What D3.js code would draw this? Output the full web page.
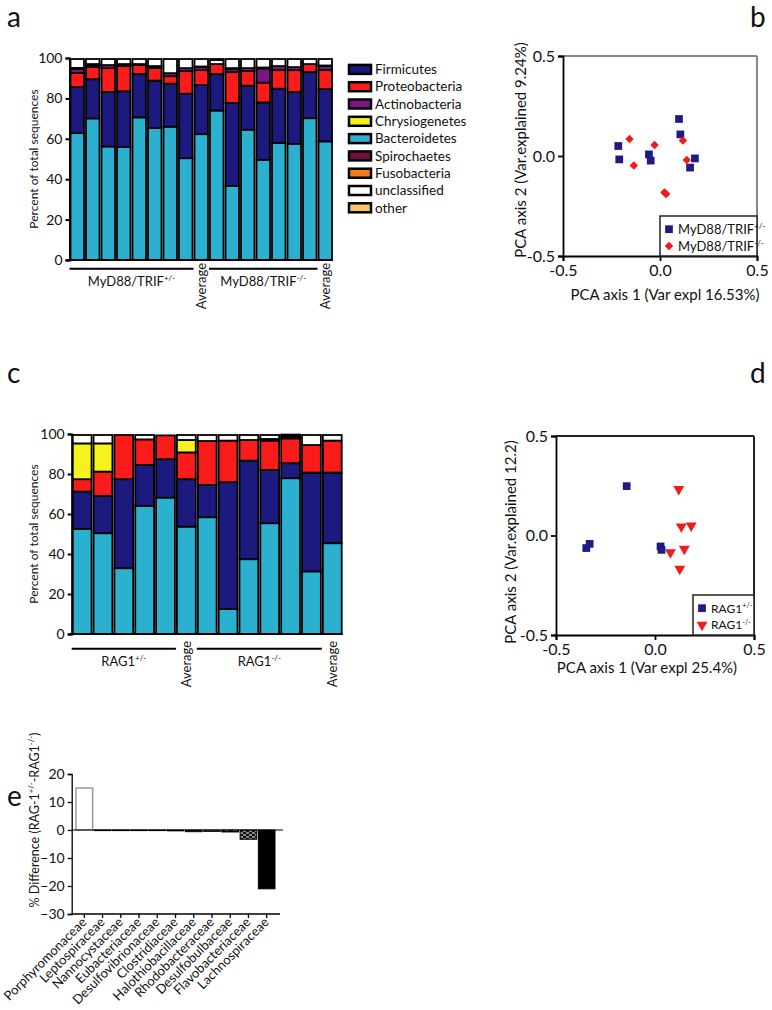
<!DOCTYPE html>
<html><head><meta charset="utf-8">
<script src="https://cdn.jsdelivr.net/npm/d3@7"></script>
<style>
body{margin:0;background:#fff;}
svg{display:block;font-family:Lato,"Open Sans",sans-serif;}
</style></head><body>
<svg id="chart" width="772" height="1010"></svg>
<script>
// ---------- DATA ----------
const phyla = ["Firmicutes","Proteobacteria","Actinobacteria","Chrysiogenetes","Bacteroidetes","Spirochaetes","Fusobacteria","unclassified","other"];
const phylaColors = ["#1c1a7e","#fa1b1b","#7c1682","#f5f21d","#2cb0d0","#6d1040","#f27c1e","#ffffff","#f6c56a"];
const stackOrder = ["Bacteroidetes","Firmicutes","Proteobacteria","Chrysiogenetes","Actinobacteria","Spirochaetes","Fusobacteria","unclassified","other"];

// Panel a: MyD88/TRIF (8 het + average, 7 ko + average)
const aSamples = ["h1","h2","h3","h4","h5","h6","h7","h8","avgH","k1","k2","k3","k4","k5","k6","k7","avgK"];
const aBacteroidetes  = [62.8,70.1,56.2,55.9,70.6,65.3,66.0,50.4,62.3,74.0,36.7,64.5,49.6,57.9,57.5,70.2,58.7];
const aFirmicutes     = [22.8,19.4,26.9,27.6,21.4,23.5,21.3,31.9,24.3,18.0,41.0,21.8,28.4,26.9,25.6,22.8,25.9];
const aProteobacteria = [7.0,6.0,11.9,12.5,4.5,6.2,3.7,11.2,7.4,5.0,15.3,7.2,9.8,9.2,10.9,4.0,9.4];
const aChrysiogenetes = [0,0,0,0,0,0,0,0,0,0,0,0,0,0,0,0,0];
const aActinobacteria = [2.0,1.0,1.5,1.0,0.5,1.0,1.5,1.5,1.5,0,1.5,1.5,7.0,2.0,1.5,0,2.0];
const aSpirochaetes   = [0.5,0.5,0,0,0,0,0,0,0.3,0,0.5,0,0.5,0,0,0,0.3];
const aFusobacteria   = [0,0,0,0,0,0,0,0,0,0,0,0,0,0,0,0,0];
const aUnclassified   = [4.4,2.5,3.0,2.5,2.5,3.5,7.0,4.5,3.7,2.0,4.5,4.5,4.2,3.5,4.0,2.5,3.2];
const aOther          = [0,0,0,0,0,0,0,0,0,0.5,0,0,0,0,0,0,0];

// Panel b: PCA MyD88/TRIF
const bHetX = [-0.215,-0.21,-0.057,-0.048,0.098,0.105,0.18,0.155];
const bHetY = [0.05,-0.017,0.008,-0.023,0.185,0.108,-0.012,-0.058];
const bKoX  = [-0.157,-0.135,-0.028,0.118,0.138,0.023,0.032];
const bKoY  = [0.085,-0.047,0.055,0.077,-0.02,-0.182,-0.19];

// Panel c: RAG1 (5 het + average, 6 ko + average)
const cSamples = ["h1","h2","h3","h4","h5","avgH","k1","k2","k3","k4","k5","k6","avgK"];
const cBacteroidetes  = [52.6,50.4,32.9,64.1,68.2,53.7,58.4,12.5,37.4,55.4,77.9,31.3,45.4];
const cFirmicutes     = [18.6,18.7,44.5,20.4,19.2,23.7,16.1,63.4,49.3,26.6,7.5,49.4,35.3];
const cProteobacteria = [6.2,12.1,22.1,12.8,11.9,13.4,22.0,20.8,10.3,14.7,12.4,13.8,16.0];
const cChrysiogenetes = [17.9,14.1,0,0,0,6.2,0,0,0,0,0,0,0];
const cActinobacteria = [0,0,0,0,0,0,0,0,0,0,0,0,0];
const cSpirochaetes   = [0,0,0,0,0,0,0,0,0,0.8,1.0,0,0];
const cFusobacteria   = [0,0,0,0,0,0,0,0,0,0,0,0,0];
const cUnclassified   = [4.2,4.2,0,2.2,0,2.5,3.0,2.8,2.5,2.0,0,5.0,2.8];
const cOther          = [0,0,0,0,0,0,0,0,0,0,0.9,0,0];

// Panel d: PCA RAG1
const dHetX = [-0.347,-0.33,-0.143,0.028,0.033];
const dHetY = [-0.063,-0.042,0.248,-0.055,-0.072];
const dKoX  = [0.12,0.133,0.183,0.078,0.148,0.125];
const dKoY  = [0.233,0.045,0.05,-0.085,-0.068,-0.168];

// Panel e: % difference by family
const eFamilies = ["Porphyromonaceae","Leptospiraceae","Nannocystaceae","Eubacteriaceae","Desulfovibrionaceae","Clostridiaceae","Halothiobacillaceae","Rhodobacteraceae","Desulfobulbaceae","Flavobacteriaceae","Lachnospiraceae"];
const eValues   = [15.0,-0.1,-0.1,-0.2,-0.2,-0.3,-0.6,-0.5,-0.7,-3.3,-21.0];
const eFills    = ["#ffffff","#000000","#444444","#888888","#666666","#555555","#333333","#bbbbbb","url(#dash)","url(#brick)","#000000"];

const pctTicks = [0,20,40,60,80,100];
const pcaTicks = [-0.5,0,0.5];
const eTicks = [-30,-20,-10,0,10,20];

// ---------- HELPERS ----------
const svg = d3.select("#chart");
svg.append("rect").attr("width",772).attr("height",1010).attr("fill","#fff");
const color = d3.scaleOrdinal(phyla, phylaColors);

const defs = svg.append("defs");
const pd = defs.append("pattern").attr("id","dash").attr("patternUnits","userSpaceOnUse").attr("width",8).attr("height",4);
pd.append("rect").attr("width",8).attr("height",4).attr("fill","#000");
pd.append("rect").attr("x",1).attr("y",1).attr("width",4).attr("height",2).attr("fill","#fff");
const pb = defs.append("pattern").attr("id","brick").attr("patternUnits","userSpaceOnUse").attr("width",6).attr("height",4);
pb.append("rect").attr("width",6).attr("height",4).attr("fill","#111");
pb.append("rect").attr("x",0).attr("y",0.5).attr("width",3).attr("height",1).attr("fill","#fff");
pb.append("rect").attr("x",3).attr("y",2.5).attr("width",3).attr("height",1).attr("fill","#fff");

function supText(sel, parts, size) {
  let prevSup = false;
  parts.forEach(([s, sup]) => {
    const t = sel.append("tspan").text(s);
    if (sup) { t.attr("font-size", size*0.62).attr("dy", -size*0.38); }
    else if (prevSup) { t.attr("dy", size*0.38); }
    prevSup = !!sup;
  });
  return sel;
}

function styleAxis(g, fs, sw) {
  g.selectAll("path.domain").attr("stroke","#000").attr("stroke-width",sw);
  g.selectAll(".tick line").attr("stroke","#000").attr("stroke-width",sw);
  g.selectAll(".tick text").attr("font-size",fs).attr("font-family","Lato").attr("fill","#111");
}

function stackedPanel(samples, cols, range, yRange) {
  const table = samples.map((s,i) => {
    const o = {sample:s};
    stackOrder.forEach(k => o[k] = cols[k][i]);
    return o;
  });
  const x = d3.scaleBand().domain(samples).range(range).padding(0);
  const y = d3.scaleLinear().domain([0,100]).range(yRange);
  const series = d3.stack().keys(stackOrder)(table);
  const g = svg.append("g");
  g.selectAll("g.layer").data(series).join("g").attr("fill", d => color(d.key))
    .selectAll("rect").data(d => d.filter(v => v[1]-v[0] > 0)).join("rect")
    .attr("x", d => x(d.data.sample)+1).attr("width", x.bandwidth()-2)
    .attr("y", d => y(d[1])).attr("height", d => y(d[0])-y(d[1]))
    .attr("stroke","#000").attr("stroke-width",1.8);
  const ax = g.append("g").attr("transform",`translate(${range[0]},0)`)
    .call(d3.axisLeft(y).tickValues(pctTicks).tickSize(4).tickPadding(3));
  styleAxis(ax, 14, 2);
  g.append("line").attr("x1",range[0]-3).attr("x2",range[1]).attr("y1",yRange[0]).attr("y2",yRange[0])
    .attr("stroke","#000").attr("stroke-width",2);
  return {x, y, g};
}

function groupLabels(P, ids1, avg1, ids2, avg2, yLine, lab1, lab2, avgTop, fsz) {
  const bw = P.x.bandwidth();
  [[ids1, lab1],[ids2, lab2]].forEach(([ids, lab]) => {
    const x1 = P.x(ids[0]), x2 = P.x(ids[ids.length-1]) + bw;
    P.g.append("line").attr("x1",x1).attr("x2",x2).attr("y1",yLine).attr("y2",yLine).attr("stroke","#000").attr("stroke-width",2);
    const t = P.g.append("text").attr("x",(x1+x2)/2).attr("y",yLine+17).attr("text-anchor","middle").attr("font-size",fsz).attr("fill","#111");
    supText(t, lab, fsz);
  });
  [avg1, avg2].forEach(id => {
    P.g.append("text").attr("transform",`translate(${P.x(id)+bw/2+5},${avgTop}) rotate(-90)`)
      .attr("text-anchor","end").attr("font-size",13).attr("fill","#111").text("Average");
  });
}

// ---------- PANEL A ----------
const aCols = {Bacteroidetes:aBacteroidetes, Firmicutes:aFirmicutes, Proteobacteria:aProteobacteria, Chrysiogenetes:aChrysiogenetes,
  Actinobacteria:aActinobacteria, Spirochaetes:aSpirochaetes, Fusobacteria:aFusobacteria, unclassified:aUnclassified, other:aOther};
const A = stackedPanel(aSamples, aCols, [69.5,333], [260,58]);
groupLabels(A, aSamples.slice(0,8), "avgH", aSamples.slice(9,16), "avgK", 268.7,
  [["MyD88/TRIF",0],["+/-",1]], [["MyD88/TRIF",0],["-/-",1]], 263, 13);
svg.append("text").attr("transform","translate(38,159) rotate(-90)").attr("text-anchor","middle")
  .attr("font-size",12).attr("fill","#111").text("Percent of total sequences");

// legend a
const legA = svg.append("g");
phyla.forEach((p,i) => {
  const cy = 69.4 + i*17.3;
  legA.append("rect").attr("x",349).attr("y",cy-4.5).attr("width",22).attr("height",9)
    .attr("fill",color(p)).attr("stroke","#000").attr("stroke-width",2.5);
  legA.append("text").attr("x",375).attr("y",cy).attr("dy","0.35em").attr("font-size",13.5).attr("fill","#111").text(p);
});

// ---------- PCA helper ----------
function pcaPanel(o) {
  const {xr, yr, hetX, hetY, koX, koY, koType, frameColor, xTitle, xTitleX, xTitleY, yTitle, yTitleX, yTitleY, legBox, labHet, labKo, legFs} = o;
  const x = d3.scaleLinear().domain([-0.5,0.5]).range(xr);
  const y = d3.scaleLinear().domain([-0.5,0.5]).range(yr);
  const g = svg.append("g");
  g.append("line").attr("x1",xr[0]).attr("x2",xr[1]).attr("y1",yr[1]).attr("y2",yr[1]).attr("stroke",frameColor).attr("stroke-width",2);
  g.append("line").attr("x1",xr[1]).attr("x2",xr[1]).attr("y1",yr[1]).attr("y2",yr[0]).attr("stroke",frameColor).attr("stroke-width",2);
  const fmt = d => d.toFixed(1);
  const ax = g.append("g").attr("transform",`translate(0,${yr[0]})`).call(d3.axisBottom(x).tickValues(pcaTicks).tickFormat(fmt).tickSize(5).tickPadding(4));
  const ay = g.append("g").attr("transform",`translate(${xr[0]},0)`).call(d3.axisLeft(y).tickValues(pcaTicks).tickFormat(fmt).tickSize(5).tickPadding(3));
  styleAxis(ax, 16, 1.8); styleAxis(ay, 16, 1.8);
  g.append("rect").attr("x",legBox[0]).attr("y",legBox[1]).attr("width",legBox[2]).attr("height",legBox[3])
    .attr("fill","#fff").attr("stroke","#222").attr("stroke-width",1.5);
  const sq = d3.symbol().type(d3.symbolSquare).size(60);
  const koSym = koType === "diamond" ? d3.symbol().type(d3.symbolSquare).size(36) : d3.symbol().type(d3.symbolTriangle).size(52);
  const koRot = koType === "diamond" ? 45 : 180;
  g.selectAll("path.het").data(hetX.map((v,i)=>[v,hetY[i]])).join("path").attr("class","het")
    .attr("d",sq).attr("fill","#1f1b80").attr("transform",d=>`translate(${x(d[0])},${y(d[1])})`);
  g.selectAll("path.ko").data(koX.map((v,i)=>[v,koY[i]])).join("path").attr("class","ko")
    .attr("d",koSym).attr("fill","#ee1c1c").attr("transform",d=>`translate(${x(d[0])},${y(d[1])}) rotate(${koRot})`);
  const lx = legBox[0]+9, ly1 = legBox[1]+legBox[3]*0.33, ly2 = legBox[1]+legBox[3]*0.75;
  g.append("path").attr("d",sq).attr("fill","#1f1b80").attr("transform",`translate(${lx},${ly1})`);
  g.append("path").attr("d",koSym).attr("fill","#ee1c1c").attr("transform",`translate(${lx},${ly2}) rotate(${koRot})`);
  supText(g.append("text").attr("x",lx+9).attr("y",ly1+legFs*0.36).attr("font-size",legFs).attr("fill","#111"), labHet, legFs);
  supText(g.append("text").attr("x",lx+9).attr("y",ly2+legFs*0.36).attr("font-size",legFs).attr("fill","#111"), labKo, legFs);
  g.append("text").attr("x",xTitleX).attr("y",xTitleY).attr("text-anchor","middle").attr("font-size",15).attr("fill","#111").text(xTitle);
  g.append("text").attr("transform",`translate(${yTitleX},${yTitleY}) rotate(-90)`).attr("text-anchor","middle").attr("font-size",15).attr("fill","#111").text(yTitle);
}

// ---------- PANEL B ----------
pcaPanel({xr:[563,757], yr:[256,56], hetX:bHetX, hetY:bHetY, koX:bKoX, koY:bKoY, koType:"diamond", frameColor:"#888",
  xTitle:"PCA axis 1 (Var expl 16.53%)", xTitleX:665, xTitleY:300, yTitle:"PCA axis 2 (Var.explained 9.24%)", yTitleX:526, yTitleY:150,
  legBox:[660,216,97,40], labHet:[["MyD88/TRIF",0],["+/-",1]], labKo:[["MyD88/TRIF",0],["-/-",1]], legFs:13});

// ---------- PANEL C ----------
const cCols = {Bacteroidetes:cBacteroidetes, Firmicutes:cFirmicutes, Proteobacteria:cProteobacteria, Chrysiogenetes:cChrysiogenetes,
  Actinobacteria:cActinobacteria, Spirochaetes:cSpirochaetes, Fusobacteria:cFusobacteria, unclassified:cUnclassified, other:cOther};
const C = stackedPanel(cSamples, cCols, [71.7,342.7], [634,434]);
groupLabels(C, cSamples.slice(0,5), "avgH", cSamples.slice(6,12), "avgK", 648.7,
  [["RAG1",0],["+/-",1]], [["RAG1",0],["-/-",1]], 641, 13);
svg.append("text").attr("transform","translate(38,534) rotate(-90)").attr("text-anchor","middle")
  .attr("font-size",12).attr("fill","#111").text("Percent of total sequences");

// ---------- PANEL D ----------
pcaPanel({xr:[556,754], yr:[635,436], hetX:dHetX, hetY:dHetY, koX:dKoX, koY:dKoY, koType:"triangle", frameColor:"#222",
  xTitle:"PCA axis 1 (Var expl 25.4%)", xTitleX:647, xTitleY:673, yTitle:"PCA axis 2 (Var.explained 12.2)", yTitleX:516, yTitleY:542,
  legBox:[693,595,61,40], labHet:[["RAG1",0],["+/-",1]], labKo:[["RAG1",0],["-/-",1]], legFs:12});

// ---------- PANEL E ----------
const xE = d3.scaleBand().domain(eFamilies).range([75.2,275.8]).padding(0);
const yE = d3.scaleLinear().domain([-30,20]).range([914,774]);
const gE = svg.append("g");
gE.selectAll("rect").data(eFamilies).join("rect")
  .attr("x", d => xE(d)+0.8).attr("width", xE.bandwidth()-1.6)
  .attr("y", (d,i) => yE(Math.max(0,eValues[i]))).attr("height", (d,i) => Math.max(0.6, Math.abs(yE(eValues[i])-yE(0))))
  .attr("fill", (d,i) => eFills[i]).attr("stroke", (d,i) => i===0 ? "#999" : "#000").attr("stroke-width", (d,i)=> i===0?1.5:1);
gE.append("line").attr("x1",71.7).attr("x2",283).attr("y1",yE(0)).attr("y2",yE(0)).attr("stroke","#000").attr("stroke-width",1.2);
const eAy = gE.append("g").attr("transform","translate(71.7,0)").call(d3.axisLeft(yE).tickValues(eTicks).tickSize(4).tickPadding(3));
styleAxis(eAy, 14, 1.3);
const eAx = gE.append("g").attr("transform","translate(0,914)").call(d3.axisBottom(xE).tickSize(4).tickSizeOuter(0));
styleAxis(eAx, 13, 1.3);
eAx.select("path.domain").attr("d","M71.7,0H280");
eAx.selectAll(".tick text").attr("text-anchor","end").attr("dy",null).attr("y",0)
  .attr("transform","translate(3,9) rotate(-45)");
const eT = svg.append("text").attr("transform","translate(39,820) rotate(-90)").attr("text-anchor","middle").attr("font-size",12.5).attr("fill","#111");
supText(eT, [["% Difference (RAG-1",0],["+/-",1],["-RAG1",0],["-/-",1],[")",0]], 12.5);

// ---------- PANEL LETTERS ----------
[["a",7,27],["b",750,27],["c",7,383],["d",750,383],["e",7,806]].forEach(([l,x,y]) =>
  svg.append("text").attr("x",x).attr("y",y).attr("font-size",28).attr("fill","#111").text(l));
</script>
</body></html>
